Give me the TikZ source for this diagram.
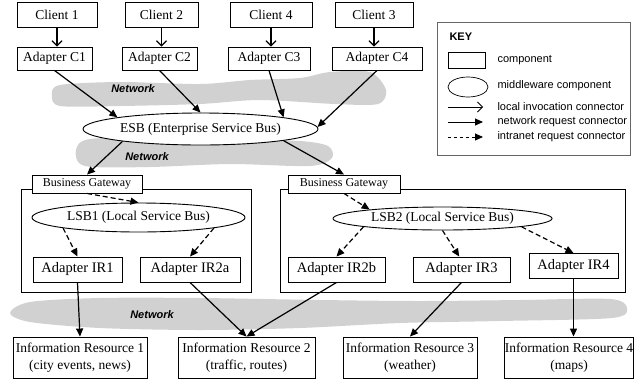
\documentclass[tikz,border=0pt]{standalone}
\usepackage{fontspec}
\setmainfont{Liberation Serif}
\setsansfont{Liberation Sans}
\usetikzlibrary{arrows.meta,shapes.geometric}
\newcommand{\netlabel}{\sffamily\bfseries\itshape\fontsize{11}{13}\selectfont}
\newcommand{\keyfont}{\sffamily\fontsize{11}{13}\selectfont}

\begin{document}
\begin{tikzpicture}[x=1pt,y=-1pt,
  comp/.style={draw,fill=white,line width=0.9pt,inner sep=0pt,font=\fontsize{13.5}{17}\selectfont},
  irad/.style={comp,minimum height=25,font=\fontsize{14.5}{17}\selectfont},
  gate/.style={comp,minimum height=18,font=\fontsize{12}{14}\selectfont},
  mw/.style={ellipse,draw,fill=white,line width=0.9pt,inner sep=0pt,font=\fontsize{13.5}{17}\selectfont},
  loc/.style={line width=1.2pt,-{Straight Barb[length=5pt,width=10pt]}},
  net/.style={line width=1.2pt,-{Triangle[length=8pt,width=7pt]}},
  intra/.style={net,dash pattern=on 5pt off 3pt},
  cloud/.style={fill=black!18}]
\useasboundingbox (0,0) rectangle (636,381);

% network clouds
\fill[cloud] plot[smooth cycle] coordinates {(52,95) (60,85) (120,82) (200,84) (250,80) (300,78) (330,72) (370,72) (386,90) (378,104) (335,104) (260,100) (200,104) (120,106) (60,106)};
\fill[cloud] plot[smooth cycle] coordinates {(76,150) (90,139) (160,138) (240,140) (300,141) (328,146) (332,158) (310,166) (230,164) (150,167) (85,166)};
\fill[cloud] plot[smooth cycle] coordinates {(10,313) (30,302) (100,298) (200,298) (320,300) (420,301) (520,300) (610,299) (627,308) (612,318) (500,321) (400,323) (300,328) (200,330) (100,328) (30,322)};
\node[font=\netlabel] (net1) at (133,89) {Network};
\node[font=\netlabel] (net2) at (147,157) {Network};
\node[font=\netlabel] (net3) at (152,315) {Network};

% local domains
\draw[line width=0.9pt] (21,189) rectangle (251,292);
\draw[line width=0.9pt] (280,189) rectangle (625,292);

% clients and their adapters
\foreach \n/\x/\w/\t in {cl1/57/80/Client 1, cl2/161.5/73/Client 2, cl4/271/82/Client 4, cl3/374/78/Client 3}{
\node[comp,minimum width=\w,minimum height=25] (\n) at (\x,15) {\t};
}
\foreach \n/\x/\w/\t in {ac1/54.5/75/Adapter C1, ac2/159.5/75/Adapter C2, ac3/269/82/Adapter C3, ac4/377/90/Adapter C4}{
\node[comp,minimum width=\w,minimum height=23] (\n) at (\x,58.5) {\t};
}
\foreach \a/\b in {cl1/ac1,cl2/ac2,cl4/ac3,cl3/ac4}{
\draw[loc] (\a.south) -- (\a.south |- \b.north);
}

% buses and gateways
\node[mw,minimum width=235,minimum height=32] (esb) at (200.5,129) {ESB (Enterprise Service Bus)};
\node[gate,minimum width=110] (bg1) at (87,184) {Business Gateway};
\node[gate,minimum width=112] (bg2) at (344,184) {Business Gateway};
\node[mw,minimum width=213,minimum height=29] (lsb1) at (138.5,217.5) {LSB1 (Local Service Bus)};
\node[mw,minimum width=219,minimum height=23] (lsb2) at (442.5,218.5) {LSB2 (Local Service Bus)};

% resource adapters
\node[irad,minimum width=89] (ir1) at (77.5,269.5) {Adapter IR1};
\node[irad,minimum width=100] (ir2a) at (190,269.5) {Adapter IR2a};
\node[irad,minimum width=97] (ir2b) at (336.5,269.5) {Adapter IR2b};
\node[irad,minimum width=97] (ir3) at (461.5,269.5) {Adapter IR3};
\node[irad,minimum width=89] (ir4) at (573.5,266) {Adapter IR4};

% information resources
\node[comp,align=center,minimum width=134,minimum height=41] (inf1) at (80,357.5) {Information Resource 1\\(city events, news)};
\node[comp,align=center,minimum width=137,minimum height=41] (inf2) at (246.5,357.5) {Information Resource 2\\(traffic, routes)};
\node[comp,align=center,minimum width=134,minimum height=41] (inf3) at (410,357.5) {Information Resource 3\\(weather)};
\node[comp,align=center,minimum width=128,minimum height=41] (inf4) at (569,357.5) {Information Resource 4\\(maps)};

% network requests
\draw[net] (ac1.south) -- (esb.172.7);
\draw[net] (ac2.south) -- (esb.north);
\draw[net] (ac3.south) -- (esb.8);
\draw[net] (ac4.south) -- (esb.1);
\draw[net] (esb.189) -- (bg1.north);
\draw[net] (esb.352) -- (bg2.north);
\draw[net] (ir1.south) -- (inf1.north);
\draw[net] (ir2a.south) -- (inf2.north);
\draw[net] (ir2b.south) -- (inf2.north);
\draw[net] (ir3.south) -- (inf3.north);
\draw[net] (ir4.south) -- (ir4.south |- inf4.north);

% intranet requests
\draw[intra] (bg1.south) -- (lsb1.north);
\draw[intra] (lsb1.188) -- (ir1.north);
\draw[intra] (lsb1.352) -- (ir2a.north);
\draw[intra] (bg2.south) -- (lsb2.173.5);
\draw[intra] (lsb2.186.4) -- (ir2b.north);
\draw[intra] (lsb2.south) -- (ir3.100);
\draw[intra] (lsb2.354.3) -- (ir4.north);

% key
\draw[black!60,line width=0.7pt] (437,22) rectangle (630,155);
\node[anchor=west,font=\keyfont\bfseries] (key) at (446,37) {KEY};
\node[comp,minimum width=37,minimum height=16,line width=0.7pt] (krect) at (466.5,60) {};
\node[mw,minimum width=40,minimum height=20,line width=0.7pt] (kell) at (468,87) {};
\coordinate (kl1) at (448,107);
\coordinate (kl2) at (483,107);
\coordinate (kn1) at (448,122);
\coordinate (kn2) at (483,122);
\coordinate (ki1) at (448,137);
\coordinate (ki2) at (483,137);
\draw[loc,line width=0.8pt] (kl1) -- (kl2);
\draw[net,line width=0.9pt] (kn1) -- (kn2);
\draw[intra,line width=0.9pt,dash pattern=on 3pt off 3pt] (ki1) -- (ki2);
\foreach \y/\t in {60/component, 86/middleware component, 107/local invocation connector, 122/network request connector, 137/intranet request connector}{
\node[anchor=west,font=\keyfont] at (494,\y) {\t};
}
\end{tikzpicture}
\end{document}
